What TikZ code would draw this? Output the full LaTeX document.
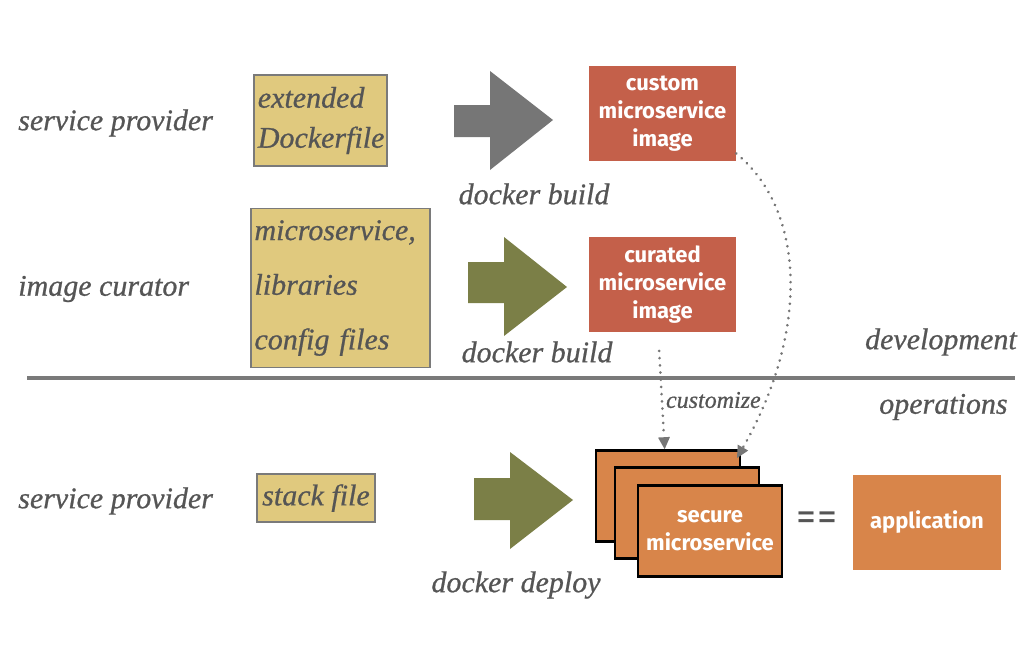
\documentclass[tikz,border=0pt]{standalone}
\usepackage{fontspec}
\setmainfont{Liberation Serif}[ItalicFeatures={FakeBold=0.7}]
\newfontfamily\boxsans{Fira Sans}
\usetikzlibrary{arrows.meta}
\definecolor{txt}{HTML}{555555}
\definecolor{tan}{HTML}{E0C97E}
\definecolor{tanedge}{HTML}{7A7A7A}
\definecolor{brick}{HTML}{C4604A}
\definecolor{orng}{HTML}{D8854A}
\definecolor{grayarrow}{HTML}{767676}
\definecolor{olive}{HTML}{7B7F47}
\definecolor{rule}{HTML}{7A7A7A}
\tikzset{
  lbl/.style={font=\itshape\fontsize{22.5}{26}\selectfont, text=txt, inner sep=0pt},
  srcbox/.style={draw=tanedge, line width=0.9pt, fill=tan, text=txt, inner sep=2pt,
    font=\itshape\fontsize{22.5}{30}\selectfont, align=left},
  imgbox/.style={fill=brick, text=white, align=center, inner sep=0pt,
    font=\boxsans\bfseries\fontsize{16.5}{21}\selectfont,
    minimum width=110.25pt, minimum height=71.25pt},
  msbox/.style={fill=orng, draw=black, line width=2.2pt, text=white, align=center, inner sep=0pt,
    font=\boxsans\bfseries\fontsize{16.5}{21}\selectfont,
    minimum width=108pt, minimum height=68pt},
  appbox/.style={fill=orng, text=white, align=center, inner sep=0pt,
    font=\boxsans\bfseries\fontsize{16.5}{21}\selectfont,
    minimum width=111pt, minimum height=71.25pt},
  dotarrow/.style={draw=grayarrow, line width=2.2pt, dash pattern=on 0.01pt off 5.4pt, line cap=round,
    -{Triangle[length=9pt,width=9pt,fill=grayarrow,line width=0pt]}, shorten >=0pt},
}
\begin{document}
\begin{tikzpicture}[x=0.75pt,y=-0.75pt]
\useasboundingbox (0,0) rectangle (1024,667);

% row labels
\node[lbl, anchor=west] (sp1) at (18,123) {service provider};
\node[lbl, anchor=west] (ic) at (18,289) {image curator};
\node[lbl, anchor=west] (sp2) at (18,501) {service provider};

% source boxes
\node[srcbox, minimum width=99.75pt, minimum height=68.25pt, text width=94pt] (ext) at (320.5,120.5)
  {extended\\Dockerfile};
\node[srcbox, minimum width=134.25pt, minimum height=119.25pt, text width=129pt,
  font=\itshape\fontsize{22.5}{41}\selectfont] (mlc) at (340.5,288)
  {microservice,\\libraries\\config files};
\node[srcbox, minimum width=88.5pt, minimum height=36pt] (stk) at (316,498) {stack file};

% big arrows
\fill[grayarrow] (454,105) -- (490,105) -- (490,71) -- (553,120) -- (490,170) -- (490,137) -- (454,137) -- cycle;
\fill[olive] (468,262) -- (504,262) -- (504,237) -- (567,287) -- (504,336) -- (504,303) -- (468,303) -- cycle;
\fill[olive] (474,478) -- (510,478) -- (510,452) -- (573,500) -- (510,549) -- (510,520) -- (474,520) -- cycle;

\node[lbl] (db1) at (534,194) {docker build};
\node[lbl] (db2) at (537,352) {docker build};
\node[lbl] (dd) at (516,585) {docker deploy};

% image boxes
\node[imgbox] (custom) at (662.5,113.5) {custom\\microservice\\image};
\node[imgbox] (curated) at (662.5,284.5) {curated\\microservice\\image};

% divider
\draw[rule, line width=3pt] (27,378) coordinate (rl) -- (1015,378) coordinate (rr);
\node[lbl, anchor=east] (dev) at (1017,342) {development};
\node[lbl, anchor=west] (ops) at (879,407) {operations};

% stacked microservices
\node[msbox] (ms1) at (668,496) {};
\node[msbox] (ms2) at (687,513) {};
\node[msbox] (ms3) at (710,531) {secure\\microservice};

\node[font=\boxsans\fontsize{30}{30}\selectfont, text=txt, inner sep=0pt] (eq) at (817,521) {=\kern1pt=};
\node[appbox] (app) at (927,522.5) {application};

% dotted connectors
\draw[dotarrow] ([xshift=-2.5pt,yshift=-14pt]curated.south) -- node[lbl, anchor=west, xshift=2pt, font=\itshape\fontsize{18}{20}\selectfont] (cz) {customize} ([xshift=-2.5pt]ms1.north);
\draw[dotarrow] ([yshift=-30pt]custom.east) .. controls (805,210) and (810,330) .. (737,458);
\end{tikzpicture}
\end{document}
